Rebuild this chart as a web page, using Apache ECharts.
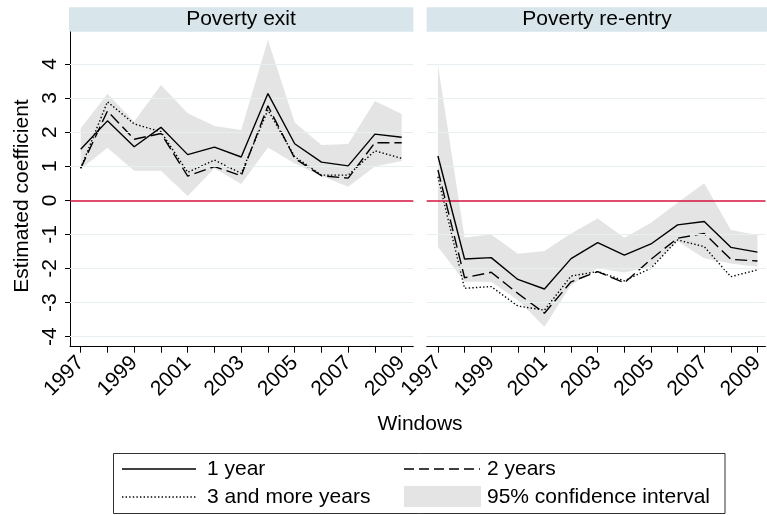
<!DOCTYPE html>
<html>
<head>
<meta charset="utf-8">
<script src="https://cdn.jsdelivr.net/npm/echarts@6/dist/echarts.min.js"></script>
<style>
html,body{margin:0;padding:0;background:#fff;}
#chart{width:767px;height:515px;}
</style>
</head>
<body>
<div id="chart"></div>
<script>
// ---- data ----
const years = [1997,1998,1999,2000,2001,2002,2003,2004,2005,2006,2007,2008,2009];
const yearLabels = [1997,1999,2001,2003,2005,2007,2009];
const yTicks = [-4,-3,-2,-1,0,1,2,3,4];
const panelTitles = ['Poverty exit','Poverty re-entry'];
const legendNames = ['1 year','2 years','3 and more years','95% confidence interval'];

const exit1  = [1.50,2.33,1.57,2.14,1.34,1.56,1.27,3.13,1.66,1.12,1.01,1.94,1.85];
const exit2  = [0.94,2.62,1.79,1.96,0.71,0.99,0.72,2.77,1.23,0.72,0.65,1.69,1.69];
const exit3  = [0.94,2.89,2.24,2.01,0.82,1.18,0.79,2.65,1.28,0.74,0.74,1.45,1.23];
const exitHi = [2.11,3.12,2.31,3.38,2.55,2.18,2.06,4.70,2.28,1.62,1.65,2.91,2.53];
const exitLo = [0.92,1.54,0.87,0.87,0.13,0.94,0.48,1.55,1.08,0.71,0.40,0.99,1.15];

const reentry1  = [1.30,-1.72,-1.68,-2.32,-2.60,-1.71,-1.24,-1.61,-1.28,-0.72,-0.62,-1.38,-1.52];
const reentry2  = [0.89,-2.27,-2.11,-2.73,-3.31,-2.39,-2.09,-2.42,-1.73,-1.11,-0.97,-1.73,-1.78];
const reentry3  = [0.69,-2.58,-2.53,-3.10,-3.22,-2.22,-2.09,-2.36,-1.99,-1.16,-1.36,-2.24,-2.04];
const reentryHi = [3.97,-1.09,-1.00,-1.57,-1.49,-0.97,-0.53,-1.10,-0.66,-0.07,0.50,-0.87,-1.02];
const reentryLo = [-1.36,-2.39,-2.39,-2.92,-3.71,-2.48,-1.99,-2.12,-1.95,-1.20,-1.70,-1.85,-1.95];

// ---- styling ----
const FONT = 'Liberation Sans, Arial, sans-serif';
const BAND = '#e4e4e4';
const GRIDC = '#e8eff2';
const RED = '#d5123f';
const STRIP = '#d8e5eb';

const panels = [
  {lo: exitLo, hi: exitHi, s1: exit1, s2: exit2, s3: exit3},
  {lo: reentryLo, hi: reentryHi, s1: reentry1, s2: reentry2, s3: reentry3}
];

const gridBoxes = [
  {left: 70, top: 32, width: 343.3, height: 314.7},
  {left: 426.7, top: 32, width: 340.3, height: 314.7}
];
const xRanges = [[1996.6, 2009.434],[1996.578, 2009.30]];
const yMin = -4.293, yMax = 4.936;

const xAxes = [], yAxes = [], series = [];
panels.forEach((p, i) => {
  xAxes.push({
    type: 'value', gridIndex: i, min: xRanges[i][0], max: xRanges[i][1],
    axisLine: {show: true, onZero: false, lineStyle: {color: '#000', width: 1}},
    axisTick: {show: true, customValues: years, length: 6, lineStyle: {color: '#000', width: 1}},
    axisLabel: {customValues: yearLabels, rotate: 45, fontSize: 21, fontFamily: FONT, color: '#000', margin: 13,
      formatter: v => String(v)},
    splitLine: {show: false}
  });
  yAxes.push({
    type: 'value', gridIndex: i, min: yMin, max: yMax, show: i === 0,
    axisLine: {show: i === 0, lineStyle: {color: '#000', width: 1}},
    axisTick: {show: i === 0, customValues: yTicks, length: 5, lineStyle: {color: '#000', width: 1}},
    axisLabel: {show: i === 0, customValues: yTicks, rotate: 90, fontSize: 21, fontFamily: FONT, color: '#000', margin: 9,
      formatter: v => String(v)},
    splitLine: {show: false}
  });
  // grid lines + zero line (under the band)
  series.push({
    type: 'line', xAxisIndex: i, yAxisIndex: i, data: [], z: 1, silent: true,
    markLine: {
      symbol: 'none', silent: true, animation: false, label: {show: false},
      lineStyle: {color: GRIDC, width: 1, type: 'solid'},
      data: yTicks.map(v => v === 0
        ? {yAxis: v, lineStyle: {color: RED, width: 1.6, type: 'solid'}}
        : {yAxis: v})
    }
  });
  // confidence band
  series.push({
    type: 'custom', xAxisIndex: i, yAxisIndex: i, z: 2, silent: true,
    data: years.map((y, k) => [y, p.lo[k], p.hi[k]]),
    encode: {x: 0, y: [1, 2]},
    renderItem: (params, api) => {
      if (params.dataIndexInside !== 0) return null;
      const n = params.dataInsideLength;
      const pts = [];
      for (let k = 0; k < n; k++) pts.push(api.coord([api.value(0, k), api.value(2, k)]));
      for (let k = n - 1; k >= 0; k--) pts.push(api.coord([api.value(0, k), api.value(1, k)]));
      return {type: 'polygon', shape: {points: pts}, style: {fill: BAND}};
    }
  });
  const mk = (arr, dash, name, z) => ({
    type: 'line', name, xAxisIndex: i, yAxisIndex: i, z,
    data: years.map((y, k) => [y, arr[k]]),
    symbol: 'none', silent: true, animation: false,
    lineStyle: {color: '#000', width: 1.4, type: dash}
  });
  series.push(mk(p.s3, [1.4, 2.2], legendNames[2], 3));
  series.push(mk(p.s2, [12, 5], legendNames[1], 4));
  series.push(mk(p.s1, 'solid', legendNames[0], 5));
});

const txt = (x, y, text, extra) => Object.assign({
  type: 'text', x, y, style: Object.assign({text, font: '21px ' + FONT, fill: '#000',
    textAlign: 'left', textVerticalAlign: 'middle'}, extra || {})
});

const graphic = [
  // strips
  {type: 'rect', shape: {x: 69, y: 7.3, width: 344.3, height: 24.4}, style: {fill: STRIP}},
  {type: 'rect', shape: {x: 426.7, y: 7.3, width: 341, height: 24.4}, style: {fill: STRIP}},
  txt(241, 19.5, panelTitles[0], {textAlign: 'center'}),
  txt(597, 19.5, panelTitles[1], {textAlign: 'center'}),
  // axis titles
  {type: 'text', x: 22, y: 196, rotation: Math.PI / 2,
    style: {text: 'Estimated coefficient', font: '21px ' + FONT, fill: '#000', textAlign: 'center', textVerticalAlign: 'middle'}},
  txt(420, 424, 'Windows', {textAlign: 'center'}),
  // legend box
  {type: 'rect', shape: {x: 113.5, y: 453.5, width: 611.5, height: 60}, style: {fill: '#fff', stroke: '#333', lineWidth: 1}},
  {type: 'line', shape: {x1: 122, y1: 469, x2: 196, y2: 469}, style: {stroke: '#000', lineWidth: 1.5}},
  txt(207, 469, legendNames[0]),
  {type: 'line', shape: {x1: 122, y1: 497, x2: 196, y2: 497}, style: {stroke: '#000', lineWidth: 1.4, lineDash: [1.4, 2.2]}},
  txt(207, 497, legendNames[2]),
  {type: 'line', shape: {x1: 404, y1: 469, x2: 480, y2: 469}, style: {stroke: '#000', lineWidth: 1.5, lineDash: [10, 5]}},
  txt(487, 469, legendNames[1]),
  {type: 'rect', shape: {x: 404, y: 486, width: 77, height: 21}, style: {fill: BAND}},
  txt(487, 497, legendNames[3])
];

const chart = echarts.init(document.getElementById('chart'), null, {renderer: 'canvas'});
chart.setOption({
  animation: false,
  backgroundColor: '#fff',
  grid: gridBoxes,
  xAxis: xAxes,
  yAxis: yAxes,
  series,
  graphic
});
</script>
</body>
</html>
